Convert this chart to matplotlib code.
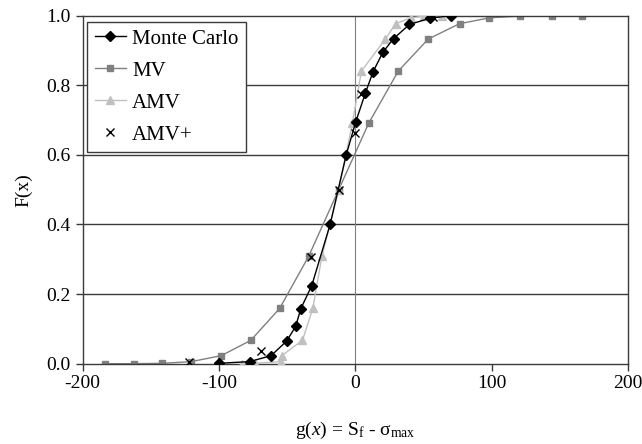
import matplotlib
matplotlib.use("Agg")
import matplotlib.pyplot as plt

# ---- data ----
mc_x = [-100, -77.5, -61.8, -50.4, -43.8, -40.0, -32.0, -18.5, -6.7, 0.3,
        7.3, 13.0, 20.2, 28.0, 39.7, 55.0, 70.0]
mc_y = [0.001, 0.006, 0.023, 0.065, 0.107, 0.158, 0.224, 0.400, 0.600, 0.695,
        0.777, 0.839, 0.895, 0.934, 0.975, 0.993, 1.000]

mv_x = [-183.7, -162.6, -141.6, -120.3, -98.4, -76.7, -55.5, -34.2, -12.2,
        9.8, 31.5, 53.5, 76.4, 98.4, 121.0, 144.3, 166.6]
mv_y = [0.000, 0.000, 0.001, 0.006, 0.023, 0.067, 0.159, 0.309, 0.500,
        0.691, 0.841, 0.933, 0.977, 0.994, 0.999, 1.000, 1.000]

amv_x = [-83.5, -73.5, -54.5, -54.0, -38.8, -31.2, -24.5, -12.2, -2.2,
         4.5, 22.0, 29.5, 40.8, 50.5, 63.5]
amv_y = [0.000, 0.001, 0.006, 0.023, 0.067, 0.159, 0.309, 0.500, 0.691,
         0.841, 0.933, 0.977, 0.994, 0.999, 1.000]

amvp_x = [-122.0, -69.5, -32.5, -12.2, -0.5, 4.0, 56.6]
amvp_y = [0.004, 0.036, 0.307, 0.500, 0.664, 0.776, 0.997]

x_ticks = [-200, -100, 0, 100, 200]
y_ticks = [0.0, 0.2, 0.4, 0.6, 0.8, 1.0]

plt.rcParams["font.family"] = ["Liberation Serif", "DejaVu Serif"]
plt.rcParams["mathtext.fontset"] = "custom"
plt.rcParams["mathtext.rm"] = "Liberation Serif"
plt.rcParams["mathtext.it"] = "Liberation Serif:italic"
plt.rcParams["axes.unicode_minus"] = False

fig = plt.figure(figsize=(6.42, 4.44), dpi=100)
ax = fig.add_axes([0.1288, 0.1809, 0.8494, 0.7837])

edge = "#3a3a3a"
for y in y_ticks[1:-1]:
    ax.axhline(y, color=edge, lw=1.0, zorder=1)
ax.axvline(0, color="#808080", lw=0.8, zorder=1)

ax.plot(mv_x, mv_y, color="#808080", lw=1.0, marker="s", ms=4.5,
        mec="#808080", mfc="#808080", label="MV", zorder=2)
ax.plot(amv_x, amv_y, color="#c0c0c0", lw=1.0, marker="^", ms=6,
        mec="#c0c0c0", mfc="#c0c0c0", label="AMV", zorder=3)
ax.plot(mc_x, mc_y, color="black", lw=1.0, marker="D", ms=4.8,
        mec="black", mfc="black", label="Monte Carlo", zorder=4)
ax.plot(amvp_x, amvp_y, ls="none", marker="x", ms=6, mew=1.0,
        color="black", label="AMV+", zorder=5)

ax.set_xlim(-200, 200)
ax.set_ylim(0, 1)
ax.set_xticks(x_ticks)
ax.set_yticks(y_ticks)
ax.set_yticklabels([f"{v:.1f}" for v in y_ticks])
ax.tick_params(direction="out", length=5, width=1, color=edge,
               labelsize=14)
ax.tick_params(axis="x", pad=3)
ax.tick_params(axis="y", pad=4)
for s in ax.spines.values():
    s.set_color(edge)
    s.set_linewidth(1.0)

ax.set_xlabel(r"g($x$) = S$_{\rm f}$ - σ$_{\rm max}$", fontsize=14, labelpad=20)
ax.set_ylabel("F(x)", fontsize=14, labelpad=10)

h, l = ax.get_legend_handles_labels()
order = [l.index(n) for n in ["Monte Carlo", "MV", "AMV", "AMV+"]]
leg = ax.legend([h[i] for i in order], [l[i] for i in order],
                loc="upper left", bbox_to_anchor=(0.0084, 0.983),
                fontsize=15, frameon=True, fancybox=False, framealpha=1,
                edgecolor=edge, borderpad=0.35, labelspacing=0.6,
                handlelength=1.5, handletextpad=0.3, borderaxespad=0)
leg.get_frame().set_linewidth(1.0)

fig.savefig("out.png", dpi=100)
